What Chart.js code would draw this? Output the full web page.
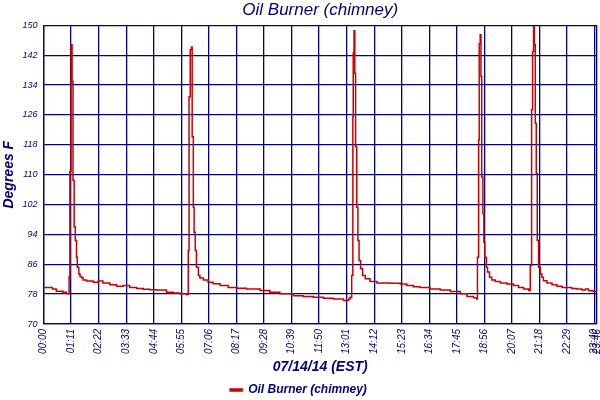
<!DOCTYPE html>
<html>
<head>
<meta charset="utf-8">
<script src="https://cdn.jsdelivr.net/npm/chart.js@4.4.1/dist/chart.umd.min.js"></script>
<style>
  html, body { margin: 0; padding: 0; background: #ffffff; }
  #wrap { width: 600px; height: 400px; }
</style>
</head>
<body>
<div id="wrap"><canvas id="c" width="600" height="400"></canvas></div>
<script>
// Time of each reading, minutes after midnight on 07/14/14
const times = [0, 23, 33, 50, 59, 66, 68, 71, 73.6, 76, 79, 82, 85, 87, 91, 94, 98, 102, 111, 128, 141, 153, 171, 188, 205, 222, 240, 257, 274, 291, 317, 334, 351, 368,
  373, 375, 378, 381, 383, 386, 388, 391, 394, 399, 403, 412, 424, 437, 455, 476, 498, 523, 558, 583, 609, 644, 669, 695, 721, 747, 773, 786, 790,
  794, 797, 798, 800, 802, 804, 807, 810, 813, 817, 822, 829, 841, 859, 893, 919, 936, 953, 970, 996, 1022, 1048, 1074, 1091, 1108, 1116,
  1118, 1121, 1122.5, 1125, 1127, 1129, 1132, 1134.5, 1137, 1141, 1144, 1149, 1155, 1164, 1177, 1194, 1211, 1224, 1237, 1250,
  1254, 1257.5, 1260, 1262.5, 1264.5, 1267, 1269.5, 1272, 1275.5, 1280, 1284, 1288, 1297, 1310, 1323, 1336, 1361, 1374, 1387, 1396, 1404, 1417, 1426];
// Oil Burner (chimney) temperature, degrees F
const temps = [79.8, 79.4, 78.8, 78.5, 78.1, 82.7, 110.9, 144.8, 135, 108.5, 96, 92.4, 87.9, 85.2, 83.4, 82.7, 82.4, 81.8, 81.5, 81.2, 81.5, 81.0, 80.5, 80.1, 80.3, 79.8, 79.5, 79.3, 79.2, 79.1, 78.5, 78.3, 78.1, 77.9,
  89.7, 130.9, 143.5, 144.2, 120.2, 101.3, 94.6, 89.7, 85.2, 83.0, 82.3, 81.8, 81.2, 80.8, 80.3, 79.8, 79.6, 79.4, 79.0, 78.5, 78.1, 77.6, 77.4, 77.2, 76.9, 76.7, 76.3, 76.7, 77.2,
  83.0, 125.5, 142.6, 148.6, 137.2, 117.5, 101.3, 92.4, 87.0, 84.8, 83.0, 82.1, 81.4, 81.0, 80.9, 80.75, 80.3, 80.0, 79.8, 79.4, 79.1, 78.7, 78.1, 77.4, 77.0, 76.7,
  87.9, 119.3, 145.1, 147.5, 136.3, 109.4, 99.6, 91.9, 87.9, 85.2, 83.9, 82.5, 81.8, 81.4, 81.0, 80.75, 80.3, 79.8, 79.4, 78.95,
  85.7, 127.5, 143, 149.7, 144.8, 123.8, 110.3, 92.4, 85.2, 83.4, 82.5, 81.6, 81.0, 80.5, 80.1, 79.8, 79.5, 79.4, 79.1, 79.4, 78.9, 78.7, 78.5];
// X tick positions (minutes) and Y ticks
const xTicks = [0, 71, 142, 213, 284, 355, 426, 497, 568, 639, 710, 781, 852, 923, 994, 1065, 1136, 1207, 1278, 1349, 1420, 1426];
const yTicks = [70, 78, 86, 94, 102, 110, 118, 126, 134, 142, 150];
const seriesName = 'Oil Burner (chimney)';
const chartTitle = 'Oil Burner (chimney)';
const xTitle = '07/14/14 (EST)';
const yTitle = 'Degrees F';

const NAVY = '#000080';
const RED = '#cc0000';
const FAM = '"Liberation Sans", Arial, sans-serif';

function hhmm(v) {
  const h = Math.floor(v / 60), m = Math.round(v % 60);
  return String(h).padStart(2, '0') + ':' + String(m).padStart(2, '0');
}

const points = times.map((t, i) => ({ x: t, y: temps[i] }));

new Chart(document.getElementById('c'), {
  type: 'line',
  data: {
    datasets: [{
      label: seriesName,
      data: points,
      borderColor: RED,
      backgroundColor: RED,
      borderWidth: 1.5,
      pointRadius: 0,
      stepped: 'before',
      fill: false
    }]
  },
  options: {
    responsive: false,
    animation: false,
    devicePixelRatio: 1,
    layout: { padding: { left: 0, right: 3, top: 0, bottom: -6 } },
    plugins: {
      title: {
        display: true,
        fullSize: false,
        text: chartTitle,
        color: NAVY,
        font: { family: FAM, size: 17, style: 'italic', weight: 'normal' },
        padding: { top: 0, bottom: 5 }
      },
      legend: {
        display: true,
        position: 'bottom',
        labels: {
          color: NAVY,
          font: { family: FAM, size: 12, style: 'italic', weight: 'bold' },
          boxWidth: 12,
          boxHeight: 2,
          padding: 3
        }
      },
      tooltip: { enabled: false }
    },
    scales: {
      x: {
        type: 'linear',
        min: 0,
        max: 1426,
        afterBuildTicks: (scale) => { scale.ticks = xTicks.map(v => ({ value: v })); },
        afterFit: (scale) => { scale.height = 57; scale.paddingLeft = 0; scale.paddingRight = 0; },
        ticks: {
          autoSkip: false,
          minRotation: 90,
          maxRotation: 90,
          padding: 5,
          color: NAVY,
          font: { family: FAM, size: 10, style: 'italic' },
          callback: (v) => hhmm(v)
        },
        grid: { color: NAVY, lineWidth: 1.3, drawTicks: false },
        border: { color: NAVY, width: 1.3 },
        title: {
          display: true,
          text: xTitle,
          color: NAVY,
          font: { family: FAM, size: 14, style: 'italic', weight: 'bold' },
          padding: { top: 0, bottom: 5 }
        }
      },
      y: {
        min: 70,
        max: 150,
        afterBuildTicks: (scale) => { scale.ticks = yTicks.map(v => ({ value: v })); },
        afterFit: (scale) => { scale.width = 43.5; scale.paddingTop = 0; scale.paddingBottom = 0; },
        ticks: {
          padding: 6,
          color: NAVY,
          font: { family: FAM, size: 9, style: 'italic' }
        },
        grid: { color: NAVY, lineWidth: 1.3, drawTicks: false },
        border: { color: NAVY, width: 1.3 },
        title: {
          display: true,
          text: yTitle,
          color: NAVY,
          font: { family: FAM, size: 14, style: 'italic', weight: 'bold' },
          padding: { top: 1, bottom: 0 }
        }
      }
    }
  }
});
</script>
</body>
</html>
